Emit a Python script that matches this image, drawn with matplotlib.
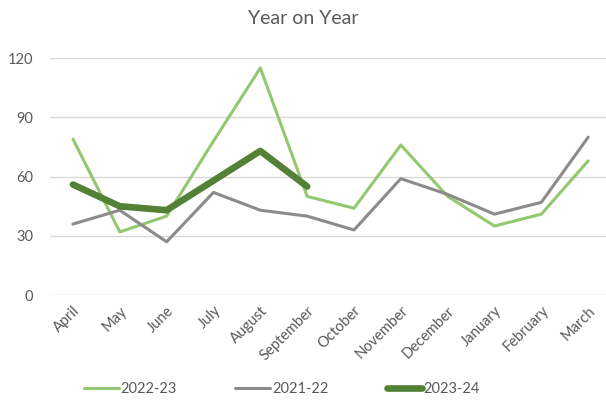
import numpy as np
import matplotlib.pyplot as plt

plt.rcParams['font.family'] = ['Lato', 'DejaVu Sans']

months = ['April', 'May', 'June', 'July', 'August', 'September', 'October',
          'November', 'December', 'January', 'February', 'March']
y2022 = [79, 32, 40, 78, 115, 50, 44, 76, 50, 35, 41, 68]
y2021 = [36, 43, 27, 52, 43, 40, 33, 59, 51, 41, 47, 80]
y2023 = [56, 45, 43, 58, 73, 55]

fig = plt.figure(figsize=(6.06, 4.01), dpi=100)
ax = fig.add_axes([50 / 606, 0.264, 556 / 606, 0.591])

x = np.arange(len(months))
ax.plot(x, y2022, color='#92c86f', lw=2.2, label='2022-23', solid_capstyle='round')
ax.plot(x, y2021, color='#8c8a8a', lw=2.2, label='2021-22', solid_capstyle='round')
ax.plot(x[:len(y2023)], y2023, color='#538135', lw=4.8, label='2023-24',
        solid_capstyle='round', solid_joinstyle='round')

ax.set_ylim(0, 120)
ax.set_yticks([0, 30, 60, 90, 120])
ax.set_xlim(-0.49, 11.38)
ax.set_xticks(x)
ax.set_xticklabels(months, rotation=45, ha='right', rotation_mode='anchor')
ax.grid(axis='y', color='#d9d9d9', lw=1)
ax.set_axisbelow(True)
for s in ax.spines.values():
    s.set_visible(False)
ax.tick_params(length=0, colors='#595959', labelsize=10.5)
ax.tick_params(axis='y', pad=12)
ax.tick_params(axis='x', pad=6)

fig.suptitle('Year on Year', y=0.975, fontsize=14, color='#595959')
fig.legend(loc='lower center', bbox_to_anchor=(0.465, -0.02), ncol=3, frameon=False,
           handlelength=2.4, handletextpad=0.1, columnspacing=4.0,
           labelcolor='#595959', fontsize=10.5)

fig.savefig('out.png', dpi=100)
